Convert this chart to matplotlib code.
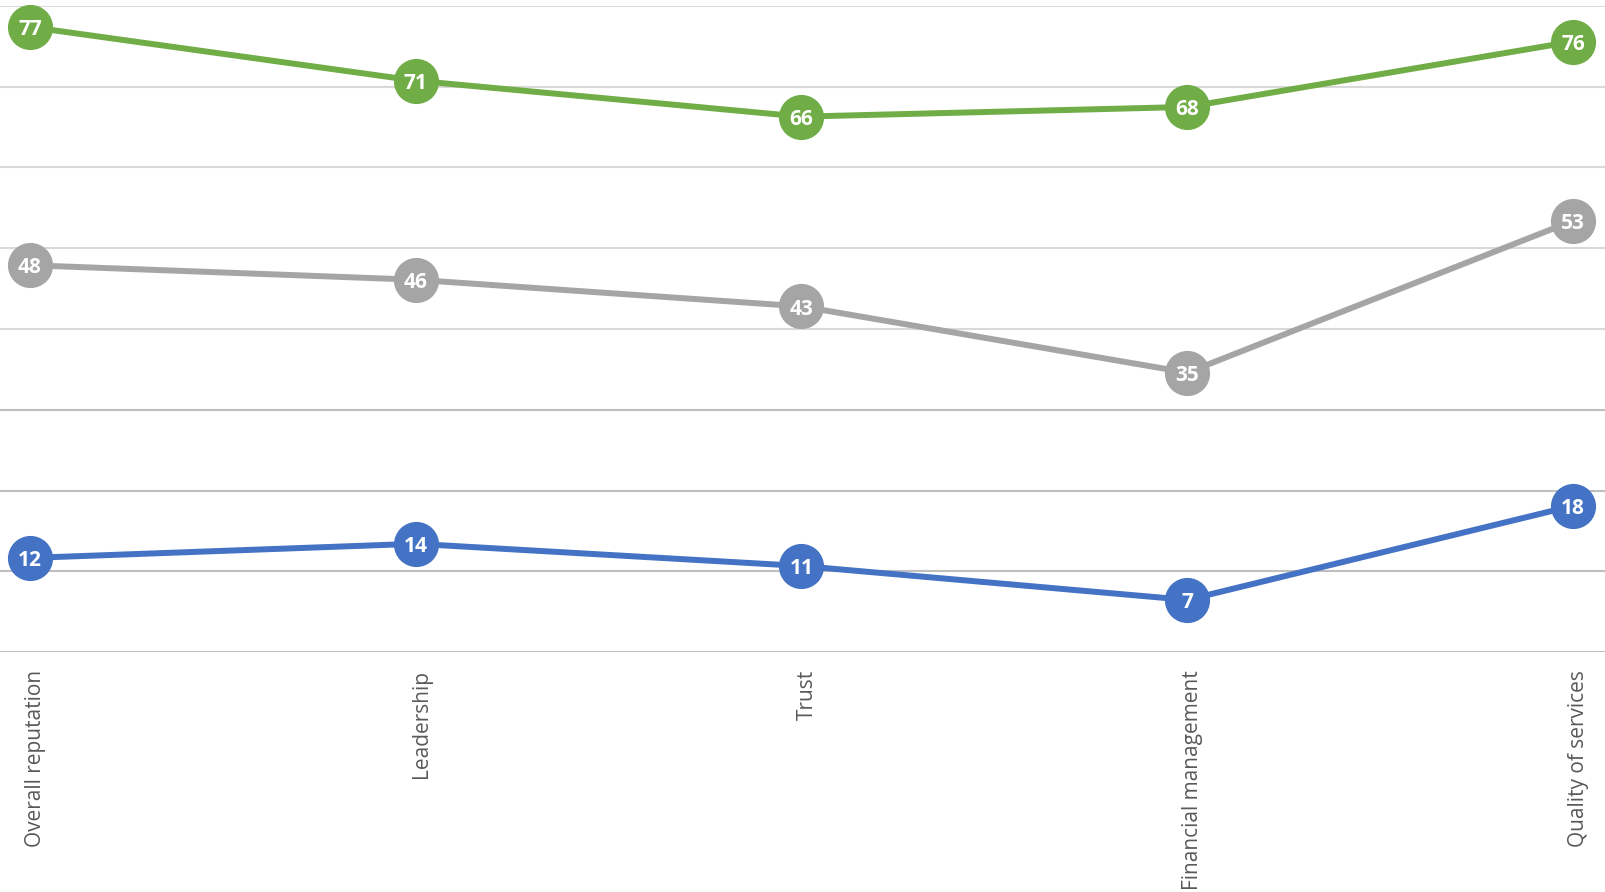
import numpy as np
import matplotlib.pyplot as plt
from matplotlib.transforms import ScaledTranslation

# Dane (etykiety jak w oryginale)
categories = ["Overall reputation", "Leadership", "Trust", "Financial management", "Quality of services"]
green_vals = [77.4, 70.75, 66.3, 67.5, 75.6]
green_labels = ["77", "71", "66", "68", "76"]
grey_vals = [47.9, 46.1, 42.8, 34.6, 53.4]
grey_labels = ["48", "46", "43", "35", "53"]
blue_vals = [11.65, 13.4, 10.65, 6.45, 18.1]
blue_labels = ["12", "14", "11", "7", "18"]

series = [
    (green_vals, green_labels, "#70AD47"),
    (grey_vals, grey_labels, "#A5A5A5"),
    (blue_vals, blue_labels, "#4472C4"),
]

fig = plt.figure(figsize=(16.05, 8.92), dpi=100)
ax = fig.add_axes([0, 1 - 652 / 892, 1, (652 - 6) / 892])

x = np.arange(len(categories))

# Linie siatki
for v in range(0, 81, 10):
    col = "#D9D9D9" if v >= 40 else "#BFBFBF"
    ax.axhline(v, color=col, lw=1.5, zorder=0)

# przesunięcie etykiet danych lekko w dół
down = ScaledTranslation(0, -2 / 72, fig.dpi_scale_trans)

for vals, labels, color in series:
    ax.plot(x, vals, color=color, lw=4.3, marker="o", markersize=31.5,
            markerfacecolor=color, markeredgecolor=color, clip_on=False, zorder=3)
    for xi, v, lab in zip(x, vals, labels):
        ax.text(xi, v, lab, color="white", fontsize=15, fontweight="bold",
                ha="center", va="center", family="Open Sans", zorder=4,
                transform=ax.transData + down)

ax.set_ylim(0, 80)
ax.set_xlim(-30 / 385.75, 4 + 32 / 385.75)
ax.set_xticks(x)
ax.set_xticklabels(categories, rotation=90, fontsize=15, color="#595959", family="Open Sans")
ax.tick_params(axis="x", length=0, pad=13)
right = ScaledTranslation(4 / 72, 0, fig.dpi_scale_trans)
for lbl in ax.get_xticklabels():
    lbl.set_transform(lbl.get_transform() + right)
ax.set_yticks([])
for s in ax.spines.values():
    s.set_visible(False)

fig.savefig("out.png", dpi=100)
